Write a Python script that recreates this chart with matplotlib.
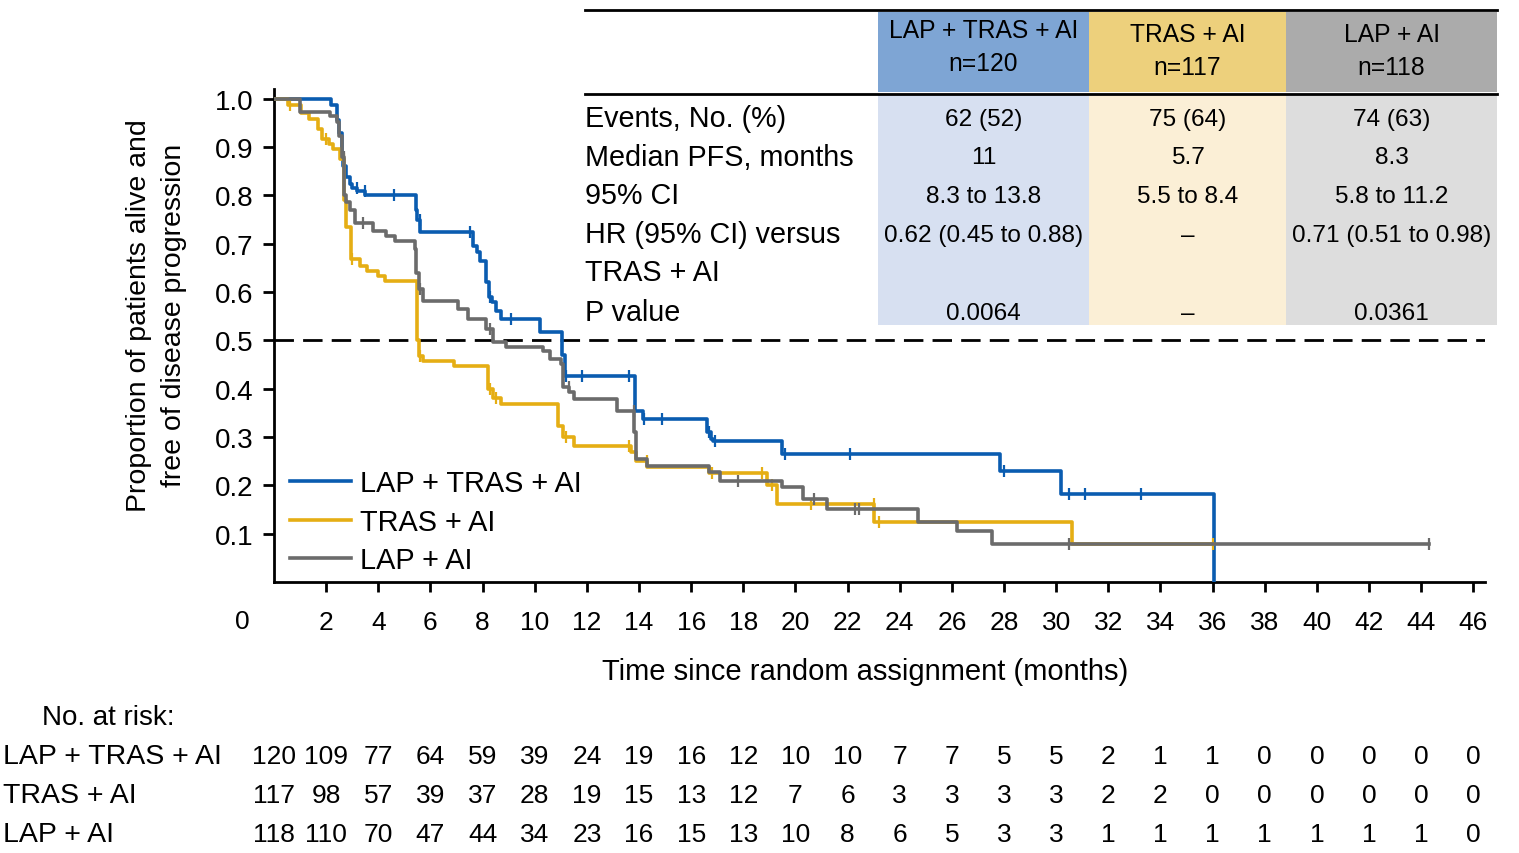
import numpy as np
import matplotlib
matplotlib.use('Agg')
import matplotlib.pyplot as plt
from matplotlib import transforms
from matplotlib.patches import Rectangle
from matplotlib.lines import Line2D

plt.rcParams['font.family'] = ['Liberation Sans', 'DejaVu Sans']

W, H = 1519, 854

groups = ['LAP + TRAS + AI', 'TRAS + AI', 'LAP + AI']
line_colors = ['#0a5cb0', '#e5ae14', '#6b6b6b']
head_colors = ['#7ea5d4', '#edd07c', '#ababab']
body_colors = ['#d7e0f1', '#fbefd6', '#dddddd']

# Kaplan-Meier steps (time in months, proportion)
lap_tras_t = [0, 2.2, 2.4, 2.5, 2.6, 2.65, 2.75, 2.9, 3.0, 3.2, 3.5, 5.45, 5.5, 5.6,
              7.65, 7.8, 7.9, 8.15, 8.25, 8.35, 8.5, 8.7, 10.2, 11.05, 11.15,
              13.85, 14.15, 16.6, 16.75, 16.85, 19.5, 27.85, 30.2, 36.05]
lap_tras_s = [1.0, 0.987, 0.955, 0.93, 0.88, 0.86, 0.838, 0.823, 0.816, 0.81, 0.80, 0.77, 0.75, 0.724,
              0.695, 0.683, 0.664, 0.62, 0.59, 0.579, 0.561, 0.544, 0.517, 0.47, 0.427,
              0.354, 0.337, 0.31, 0.296, 0.292, 0.265, 0.23, 0.182, 0.0]
lap_tras_cens = [3.2, 3.5, 4.6, 5.6, 7.5, 8.3, 9.1, 11.2, 11.8, 13.6, 14.2, 14.9, 16.7, 16.9,
                 19.6, 22.1, 28.0, 30.5, 31.1, 33.25]

tras_t = [0, 0.55, 1.05, 1.35, 1.7, 1.85, 2.1, 2.25, 2.55, 2.7, 2.75, 2.95, 3.3, 3.55, 4.0,
          4.25, 5.5, 5.55, 5.7, 6.9, 8.2, 8.4, 8.7, 10.9, 11.1, 11.5, 13.7, 13.9, 14.3,
          16.7, 18.9, 19.3, 23.0, 30.6]
tras_s = [1.0, 0.987, 0.97, 0.958, 0.937, 0.917, 0.906, 0.896, 0.875, 0.79, 0.735, 0.668, 0.654, 0.643, 0.633,
          0.623, 0.50, 0.468, 0.457, 0.447, 0.40, 0.38, 0.368, 0.323, 0.30, 0.281, 0.269, 0.25, 0.238,
          0.225, 0.20, 0.162, 0.124, 0.079]
tras_end = 36.0
tras_cens = [0.6, 2.0, 2.7, 3.0, 5.6, 8.3, 8.5, 11.2, 13.6, 14.3, 16.8, 18.7, 19.1, 20.6,
             23.0, 23.2, 36.0]

lap_t = [0, 1.0, 2.15, 2.4, 2.5, 2.6, 2.7, 2.75, 2.9, 3.1, 3.8, 4.3, 4.65, 5.4, 5.45,
         5.55, 5.7, 7.05, 7.45, 8.15, 8.4, 8.9, 10.3, 10.6, 11.0, 11.1, 11.3, 11.5,
         13.15, 13.8, 13.9, 14.3, 16.7, 17.1, 19.5, 20.3, 21.2, 24.7, 26.2, 27.55]
lap_s = [1.0, 0.972, 0.965, 0.952, 0.923, 0.88, 0.80, 0.786, 0.77, 0.742, 0.726, 0.716, 0.705, 0.69, 0.64,
         0.606, 0.581, 0.565, 0.544, 0.523, 0.497, 0.486, 0.478, 0.461, 0.452, 0.403, 0.393, 0.379,
         0.354, 0.31, 0.254, 0.24, 0.228, 0.209, 0.197, 0.172, 0.151, 0.124, 0.106, 0.079]
lap_end = 44.3
lap_cens = [2.7, 3.4, 5.6, 8.3, 11.3, 13.8, 17.8, 20.7, 22.3, 22.45, 30.5, 44.3]

# summary table
row_labels = ['Events, No. (%)', 'Median PFS, months', '95% CI', 'HR (95% CI) versus', 'TRAS + AI', 'P value']
n_patients = [120, 117, 118]
events = ['62 (52)', '75 (64)', '74 (63)']
median_pfs = ['11', '5.7', '8.3']
ci95 = ['8.3 to 13.8', '5.5 to 8.4', '5.8 to 11.2']
hr = ['0.62 (0.45 to 0.88)', '–', '0.71 (0.51 to 0.98)']
pval = ['0.0064', '–', '0.0361']

# number at risk
risk_times = list(range(0, 47, 2))
risk_lap_tras = [120, 109, 77, 64, 59, 39, 24, 19, 16, 12, 10, 10, 7, 7, 5, 5, 2, 1, 1, 0, 0, 0, 0, 0]
risk_tras = [117, 98, 57, 39, 37, 28, 19, 15, 13, 12, 7, 6, 3, 3, 3, 3, 2, 2, 0, 0, 0, 0, 0, 0]
risk_lap = [118, 110, 70, 47, 44, 34, 23, 16, 15, 13, 10, 8, 6, 5, 3, 3, 1, 1, 1, 1, 1, 1, 1, 0]
x_ticks = list(range(2, 47, 2))


fig = plt.figure(figsize=(W / 100, H / 100), dpi=100)
ax = fig.add_axes([274 / W, (H - 583) / H, (1485 - 274) / W, 493 / H])
ax.set_zorder(1)

def km_arrays(t, s, end=None):
    t = list(t)
    s = list(s)
    if end is not None:
        t.append(end)
        s.append(s[-1])
    return np.array(t), np.array(s)

def surv_at(t, s, x):
    idx = np.searchsorted(t, x, side='right') - 1
    return s[max(idx, 0)]

curves = [
    (tras_t, tras_s, tras_end, tras_cens, 1),
    (lap_t, lap_s, lap_end, lap_cens, 2),
    (lap_tras_t, lap_tras_s, None, lap_tras_cens, 0),
]
for t, s, end, cens, gi in curves:
    tt, ss = km_arrays(t, s, end)
    ax.step(tt, ss, where='post', color=line_colors[gi], lw=2.6, zorder=3 + gi % 3)
    cy = [surv_at(tt, ss, c - 1e-6) for c in cens]
    ax.plot(cens, cy, ls='none', marker='|', ms=8, mew=1.6, color=line_colors[gi], zorder=3 + gi % 3)

ax.axhline(0.5, color='black', lw=2, dashes=(7, 3.3), zorder=2)

ax.set_xlim(0, 46.45)
ax.set_ylim(0, 1.02)
for side in ['top', 'right']:
    ax.spines[side].set_visible(False)
ax.spines['left'].set_linewidth(2)
ax.spines['bottom'].set_linewidth(2)
ax.set_xticks(x_ticks)
ax.set_xticklabels([str(v) for v in x_ticks])
ax.set_yticks(np.arange(0.1, 1.01, 0.1))
ax.set_yticklabels(['%.1f' % v for v in np.arange(0.1, 1.01, 0.1)])
ax.tick_params(axis='x', length=7, width=2, pad=13, labelsize=19)
ax.tick_params(axis='y', length=8, width=2, pad=7, labelsize=20)

ax.set_xlabel('Time since random assignment (months)', fontsize=21)
ax.xaxis.set_label_coords(0.488, -0.152)
ax.set_ylabel('Proportion of patients alive and\nfree of disease progression', fontsize=20.5,
              linespacing=1.45)
ax.yaxis.set_label_coords(-0.072, 0.542)

handles = [Line2D([], [], color=c, lw=2.6) for c in line_colors]
ax.legend(handles, groups, loc='upper left', bbox_to_anchor=(0.004, 0.252), frameon=False,
          fontsize=20.8, handlelength=2.1, handletextpad=0.32, labelspacing=0.36, borderaxespad=0)

# overlay in pixel coordinates for the table and risk rows
ov = fig.add_axes([0, 0, 1, 1])
ov.set_xlim(0, W)
ov.set_ylim(H, 0)
ov.axis('off')
ov.set_zorder(2)
ov.patch.set_visible(False)

rt = transforms.blended_transform_factory(ax.transData, ov.transData)
ax.text(-1.2, 622, '0', transform=rt, ha='center', va='center', fontsize=19, clip_on=False)

col_edges = [878, 1089, 1286, 1497]
for i in range(3):
    x0, x1 = col_edges[i], col_edges[i + 1]
    ov.add_patch(Rectangle((x0, 13), x1 - x0, 80, color=head_colors[i], lw=0))
    ov.add_patch(Rectangle((x0, 96), x1 - x0, 230, color=body_colors[i], lw=0))
    xc = (x0 + x1) / 2
    yh = 31 if i == 0 else 35
    ov.text(xc, yh, groups[i], ha='center', va='center', fontsize=17.7)
    ov.text(xc, yh + 33, 'n=%d' % n_patients[i], ha='center', va='center', fontsize=17.7)
    vals = [events[i], median_pfs[i], ci95[i], hr[i], '', pval[i]]
    for v, y in zip(vals, [120, 158, 197, 236, 275, 314]):
        ov.text(xc, y, v, ha='center', va='center', fontsize=17.6)
ov.plot([585, 1497], [11, 11], color='black', lw=2)
ov.plot([585, 1497], [94.5, 94.5], color='black', lw=2)
for lab, y in zip(row_labels, [119, 158, 196, 235, 273, 313]):
    ov.text(585, y, lab, ha='left', va='center', fontsize=20.7)

ov.text(42, 718, 'No. at risk:', ha='left', va='center', fontsize=20)
risk_rows = [risk_lap_tras, risk_tras, risk_lap]
for gi, (vals, y) in enumerate(zip(risk_rows, [757, 796, 835])):
    ov.text(3, y, groups[gi], ha='left', va='center', fontsize=20.5)
    for t, v in zip(risk_times, vals):
        ax.text(t, y, str(v), transform=rt, ha='center', va='center', fontsize=19, clip_on=False)

fig.savefig('out.png', dpi=100)
